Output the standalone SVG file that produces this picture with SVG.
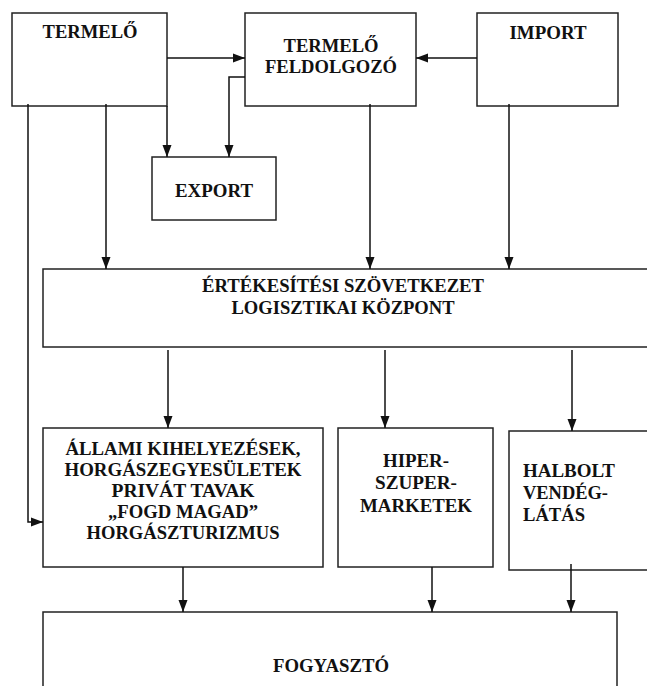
<svg xmlns="http://www.w3.org/2000/svg" width="647" height="686" viewBox="0 0 647 686">
<style>
.box{fill:#fff;stroke:#222;stroke-width:1.5}
.t{font-family:"Liberation Serif","Times New Roman",serif;font-weight:bold;font-size:18.5px;fill:#111}
.m{text-anchor:middle}
.c{fill:none;stroke:#111;stroke-width:1.5}
</style>
<defs>
<marker id="ah" markerWidth="12" markerHeight="12" viewBox="0 0 12 12" refX="12" refY="6" orient="auto" markerUnits="userSpaceOnUse">
<path d="M0,1.5 L12,6 L0,10.5 Z" fill="#111"/>
</marker>
</defs>
<rect width="647" height="686" fill="#fff"/>
<g id="termelo">
<rect class="box" x="12" y="13" width="155" height="93"/>
<text class="t m" x="90" y="38" textLength="95" lengthAdjust="spacingAndGlyphs">TERMELŐ</text>
</g>
<g id="feldolgozo">
<rect class="box" x="245" y="13" width="171" height="93"/>
<text class="t m" x="331" y="52" textLength="95" lengthAdjust="spacingAndGlyphs">TERMELŐ</text>
<text class="t m" x="331" y="73" textLength="132" lengthAdjust="spacingAndGlyphs">FELDOLGOZÓ</text>
</g>
<g id="import">
<rect class="box" x="477" y="13" width="141" height="93"/>
<text class="t m" x="548" y="39" textLength="77" lengthAdjust="spacingAndGlyphs">IMPORT</text>
</g>
<g id="export">
<rect class="box" x="152" y="157" width="124" height="63"/>
<text class="t m" x="214" y="197" textLength="78" lengthAdjust="spacingAndGlyphs">EXPORT</text>
</g>
<g id="ertekesitesi">
<rect class="box" x="43" y="269" width="620" height="78"/>
<text class="t m" x="343" y="292" textLength="282" lengthAdjust="spacingAndGlyphs">ÉRTÉKESÍTÉSI SZÖVETKEZET</text>
<text class="t m" x="343" y="314" textLength="223" lengthAdjust="spacingAndGlyphs">LOGISZTIKAI KÖZPONT</text>
</g>
<g id="allami">
<rect class="box" x="43" y="428" width="280" height="139"/>
<text class="t m" x="183" y="455" textLength="235" lengthAdjust="spacingAndGlyphs">ÁLLAMI KIHELYEZÉSEK,</text>
<text class="t m" x="183" y="476" textLength="237" lengthAdjust="spacingAndGlyphs">HORGÁSZEGYESÜLETEK</text>
<text class="t m" x="183" y="497" textLength="143" lengthAdjust="spacingAndGlyphs">PRIVÁT TAVAK</text>
<text class="t m" x="183" y="518" textLength="150" lengthAdjust="spacingAndGlyphs">„FOGD MAGAD”</text>
<text class="t m" x="183" y="539" textLength="193" lengthAdjust="spacingAndGlyphs">HORGÁSZTURIZMUS</text>
</g>
<g id="hiper">
<rect class="box" x="338" y="428" width="155" height="139"/>
<text class="t m" x="416" y="467" textLength="66" lengthAdjust="spacingAndGlyphs">HIPER-</text>
<text class="t m" x="416" y="489" textLength="82" lengthAdjust="spacingAndGlyphs">SZUPER-</text>
<text class="t m" x="416" y="512" textLength="112" lengthAdjust="spacingAndGlyphs">MARKETEK</text>
</g>
<g id="halbolt">
<rect class="box" x="509" y="431" width="160" height="139"/>
<text class="t" x="523" y="477" textLength="92" lengthAdjust="spacingAndGlyphs">HALBOLT</text>
<text class="t" x="523" y="499" textLength="85" lengthAdjust="spacingAndGlyphs">VENDÉG-</text>
<text class="t" x="523" y="521" textLength="62" lengthAdjust="spacingAndGlyphs">LÁTÁS</text>
</g>
<g id="fogyaszto">
<rect class="box" x="43" y="612" width="574" height="100"/>
<text class="t m" x="331" y="672" textLength="116" lengthAdjust="spacingAndGlyphs">FOGYASZTÓ</text>
</g>
<g id="connectors">
<line class="c" x1="167" y1="58" x2="245" y2="58" marker-end="url(#ah)"/>
<line class="c" x1="477" y1="58" x2="416" y2="58" marker-end="url(#ah)"/>
<line class="c" x1="167" y1="106" x2="167" y2="157" marker-end="url(#ah)"/>
<polyline class="c" points="245,77 229,77 229,157" marker-end="url(#ah)"/>
<line class="c" x1="106" y1="104" x2="106" y2="269" marker-end="url(#ah)"/>
<line class="c" x1="370" y1="104" x2="370" y2="269" marker-end="url(#ah)"/>
<line class="c" x1="509" y1="104" x2="509" y2="269" marker-end="url(#ah)"/>
<polyline class="c" points="28,104 28,522 43,522" marker-end="url(#ah)"/>
<line class="c" x1="168" y1="350" x2="168" y2="428" marker-end="url(#ah)"/>
<line class="c" x1="385" y1="350" x2="385" y2="428" marker-end="url(#ah)"/>
<line class="c" x1="572" y1="350" x2="572" y2="431" marker-end="url(#ah)"/>
<line class="c" x1="183" y1="567" x2="183" y2="612" marker-end="url(#ah)"/>
<line class="c" x1="432" y1="567" x2="432" y2="612" marker-end="url(#ah)"/>
<line class="c" x1="571" y1="564" x2="571" y2="612" marker-end="url(#ah)"/>
</g>
</svg>
